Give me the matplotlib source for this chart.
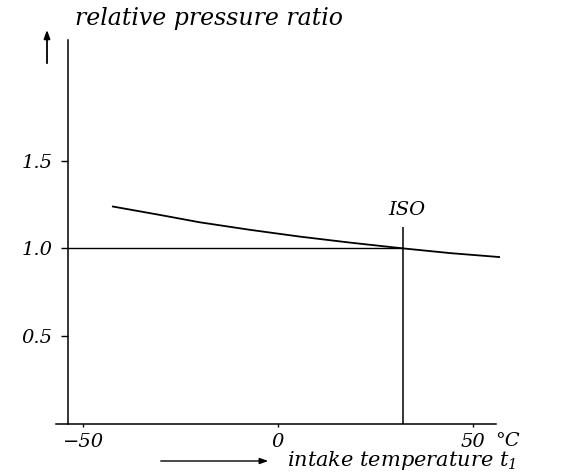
import matplotlib
matplotlib.use("Agg")
import matplotlib.pyplot as plt

# values
temps = [-42.4, -30.3, -20.1, -7.2, 5.7, 18.5, 32.1, 44.2, 57.1]
ratio = [1.239, 1.191, 1.149, 1.106, 1.067, 1.033, 1.0, 0.973, 0.950]
iso_t = 32.0
iso_top = 1.12
x_ticks = [-50, 0, 50]
x_ticklabels = ["\u221250", "0", "50"]
y_ticks = [0.5, 1.0, 1.5]
y_ticklabels = ["0.5", "1.0", "1.5"]

plt.rcParams["font.family"] = ["DejaVu Serif"]
plt.rcParams["font.style"] = "italic"
plt.rcParams["mathtext.fontset"] = "custom"
plt.rcParams["mathtext.it"] = "DejaVu Serif:italic"
plt.rcParams["mathtext.rm"] = "DejaVu Serif:italic"

W, H = 561, 472
fig = plt.figure(figsize=(W / 100, H / 100), dpi=100)
ax = fig.add_axes([56 / W, 1 - 423.5 / H, 444 / W, 383.5 / H])
ax.set_xlim(-57, 57)
ax.set_ylim(0, 2.19)

for s in ["top", "right"]:
    ax.spines[s].set_visible(False)
ax.spines["left"].set_position(("data", -54))
ax.spines["left"].set_linewidth(1.1)
ax.spines["bottom"].set_linewidth(1.1)
ax.spines["bottom"].set_bounds(-57, 56)

ax.plot(temps, ratio, color="black", lw=1.3)
ax.hlines(1.0, -54, iso_t, color="black", lw=1.0)
ax.vlines(iso_t, 0, iso_top, color="black", lw=1.1)
ax.text(iso_t + 1, iso_top + 0.05, "ISO", ha="center", va="bottom", fontsize=14)

ax.set_xticks(x_ticks)
ax.set_xticklabels(x_ticklabels)
ax.set_yticks(y_ticks)
ax.set_yticklabels(y_ticklabels)
ax.tick_params(axis="x", length=2.5, width=1, pad=4, labelsize=14)
ax.tick_params(axis="y", length=5, width=1, pad=6, labelsize=14)
ax.annotate("\u00b0C", xy=(x_ticks[-1], 0), xytext=(16, -6), textcoords="offset points",
            ha="left", va="top", fontsize=14)


def fx(px):
    return px / W


def fy(py):
    return 1 - py / H


fig.text(fx(75), fy(18), "relative pressure ratio", ha="left", va="center", fontsize=17)
fig.text(fx(287), fy(461), "intake temperature $t_1$", ha="left", va="center", fontsize=15)

# arrows next to the axis titles
ax.annotate("", xy=(fx(47), fy(27)), xytext=(fx(47), fy(66)), xycoords="figure fraction",
            textcoords="figure fraction",
            arrowprops=dict(arrowstyle="-|>,head_length=0.5,head_width=0.18", color="black", lw=1.3))
ax.annotate("", xy=(fx(271), fy(461)), xytext=(fx(158), fy(461)), xycoords="figure fraction",
            textcoords="figure fraction",
            arrowprops=dict(arrowstyle="-|>,head_length=0.5,head_width=0.18", color="black", lw=1.0))

fig.savefig("out.png", dpi=100)
